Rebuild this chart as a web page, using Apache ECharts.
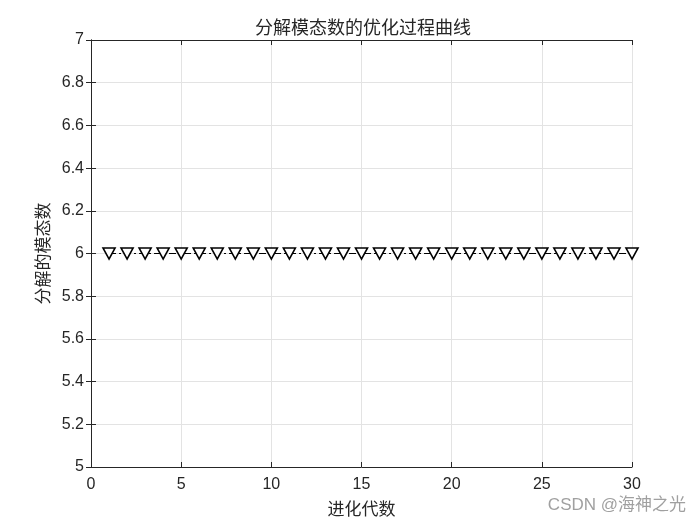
<!DOCTYPE html>
<html><head><meta charset="utf-8">
<script src="https://cdn.jsdelivr.net/npm/echarts@6/dist/echarts.min.js"></script>
<style>html,body{margin:0;padding:0;background:#fff}#c{width:700px;height:525px}</style>
</head><body><div id="c"></div>
<script>
var generations = [1,2,3,4,5,6,7,8,9,10,11,12,13,14,15,16,17,18,19,20,21,22,23,24,25,26,27,28,29,30];
var modeCounts = [6,6,6,6,6,6,6,6,6,6,6,6,6,6,6,6,6,6,6,6,6,6,6,6,6,6,6,6,6,6];
var titleText = '分解模态数的优化过程曲线';
var xName = '进化代数';
var yName = '分解的模态数';

var chart = echarts.init(document.getElementById('c'));
var data = generations.map(function(g, i){ return [g, modeCounts[i]]; });
var lbl = {fontFamily:'Liberation Sans, Arial', fontSize:16, color:'#262626'};
var axLine = {show:true, lineStyle:{color:'#262626', width:1}};
var tick = {show:true, inside:true, length:5, lineStyle:{color:'#262626'}};
var cjk = {fontFamily:'Noto Sans CJK SC', fontSize:17, fontWeight:'normal', color:'#262626'};
chart.setOption({
  backgroundColor:'#fff',
  animation:false,
  title:{text:titleText, left:250, top:13,
    textStyle:Object.assign({}, cjk, {fontSize:18})},
  grid:{left:91, right:68, top:40, bottom:58},
  xAxis:[{type:'value', min:0, max:30, interval:5, position:'bottom',
    name:xName, nameLocation:'middle', nameGap:33, nameTextStyle:cjk,
    axisLine:axLine, axisTick:tick, axisLabel:Object.assign({margin:10}, lbl),
    splitLine:{show:true, lineStyle:{color:'#e3e3e3'}}},
   {type:'value', min:0, max:30, interval:5, position:'top',
    axisLine:axLine, axisTick:tick, axisLabel:{show:false}, splitLine:{show:false}}],
  yAxis:[{type:'value', min:5, max:7, interval:0.2, position:'left',
    name:yName, nameLocation:'middle', nameGap:40, nameRotate:90, nameTextStyle:cjk,
    axisLine:axLine, axisTick:tick,
    axisLabel:Object.assign({margin:7, formatter:function(v){return +v.toFixed(1)+'';}}, lbl),
    splitLine:{show:true, lineStyle:{color:'#e3e3e3'}}},
   {type:'value', min:5, max:7, interval:0.2, position:'right',
    axisLine:axLine, axisTick:tick, axisLabel:{show:false}, splitLine:{show:false}}],
  series:[{type:'line', data:data, xAxisIndex:0, yAxisIndex:0,
    symbol:'triangle', symbolRotate:180, symbolSize:[12,11],
    lineStyle:{color:'#000', width:1, type:[7,3,2,3]},
    itemStyle:{color:'#fff', borderColor:'#000', borderWidth:1.6},
    z:3}],
  graphic:[{type:'text', right:14, top:497,
    style:{text:'CSDN @海神之光', fontFamily:'Liberation Sans, Noto Sans CJK SC', fontSize:17, fill:'#a0a0a0'}}]
});
</script></body></html>
